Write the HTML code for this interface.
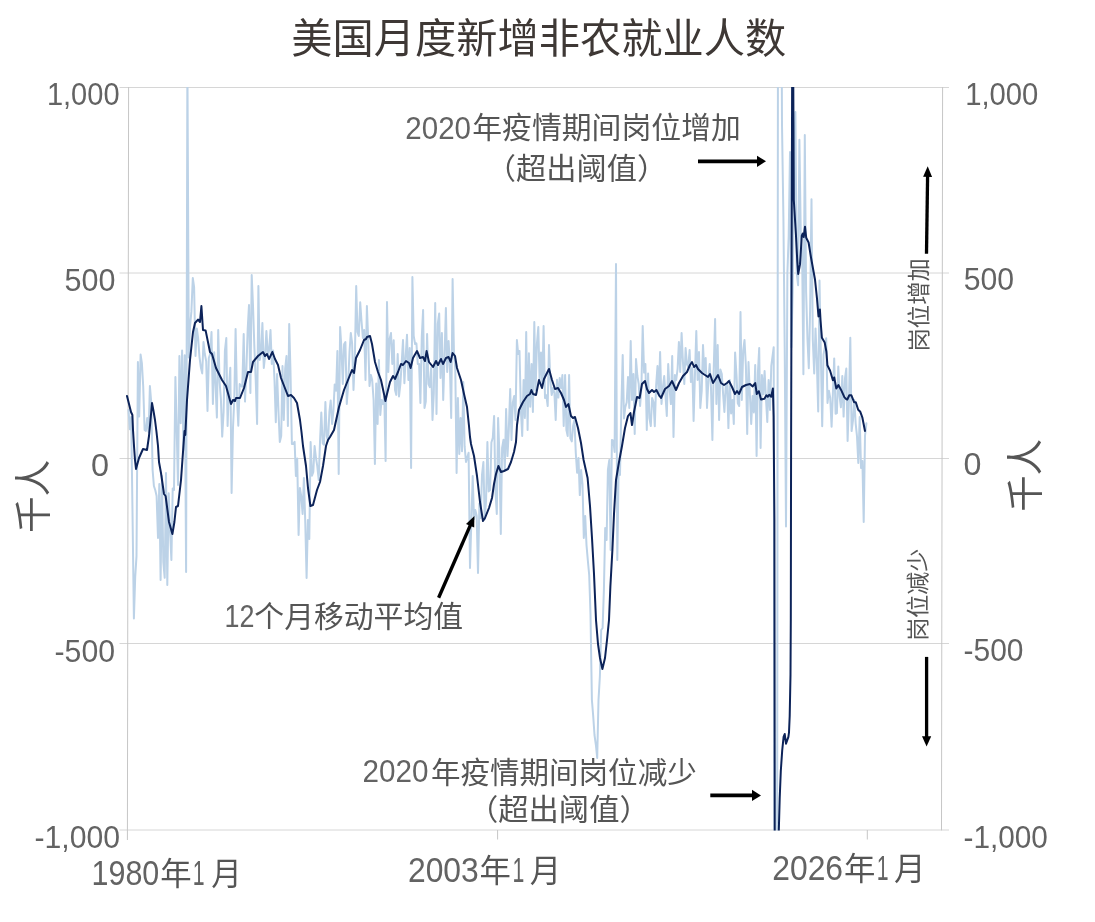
<!DOCTYPE html>
<html lang="zh-CN"><head><meta charset="utf-8"><title>美国月度新增非农就业人数</title>
<style>
html,body{margin:0;padding:0;background:#fff}
body{width:1095px;height:922px;overflow:hidden}
svg{display:block}
text{font-family:"Liberation Sans","Noto Sans CJK SC",sans-serif}
.cj{font-weight:400}
</style></head><body>
<svg width="1095" height="922" viewBox="0 0 1095 922">
<defs><clipPath id="c"><rect x="120" y="87" width="830" height="743.4"/></clipPath></defs>
<rect width="1095" height="922" fill="#fff"/>
<text transform="translate(291.35,52.90) scale(0.9990,1)" font-size="41.3" fill="#3e3835">美国月度新增非农就业人数</text>
<g stroke="#d6d6d6" stroke-width="1" fill="none">
<path d="M119.5,87.5H949 M119.5,273.0H949 M119.5,458.5H949 M119.5,643.5H949 M119.5,830H949"/>
</g>
<g stroke="#c6c6c6" stroke-width="1" fill="none">
<path d="M128.6,87L127.4,840 M942.6,87L941.5,830.4 M497.6,830V839.5 M867.3,830V839.5"/>
</g>
<g clip-path="url(#c)" fill="none" stroke-linejoin="round" stroke-linecap="round">
<path stroke="#bcd2e7" stroke-width="2.0" d="M128.5,409.9 L129.8,429.2 L131.2,416.9 L132.5,512.3 L133.9,618.4 L135.2,577.2 L136.5,556.1 L137.9,362.0 L139.2,416.6 L140.6,354.6 L141.9,363.5 L143.2,386.2 L144.6,430.0 L145.9,430.9 L147.2,418.0 L148.6,432.0 L149.9,386.0 L151.3,403.2 L152.6,470.0 L153.9,486.0 L155.3,490.2 L156.6,496.0 L158.0,538.0 L159.3,484.0 L160.6,580.0 L162.0,476.0 L163.3,562.0 L164.7,577.8 L166.0,473.0 L167.3,585.0 L168.7,493.3 L170.0,530.0 L171.4,560.0 L172.7,488.5 L174.0,490.0 L175.4,377.0 L176.7,430.0 L178.0,485.0 L179.4,356.0 L180.7,423.3 L182.1,350.6 L183.4,450.0 L184.7,355.2 L186.1,572.0 L187.4,60.0 L188.8,357.4 L190.1,326.0 L191.4,311.4 L192.8,278.0 L194.1,287.1 L195.5,356.0 L196.8,328.4 L198.1,338.0 L199.5,357.1 L200.8,367.0 L202.2,373.4 L203.5,342.0 L204.8,354.0 L206.2,361.3 L207.5,411.0 L208.8,358.0 L210.2,353.9 L211.5,332.0 L212.9,404.0 L214.2,352.3 L215.5,384.0 L216.9,417.6 L218.2,330.0 L219.6,382.0 L220.9,399.3 L222.2,436.6 L223.6,412.0 L224.9,350.9 L226.3,338.0 L227.6,426.0 L228.9,388.0 L230.3,367.8 L231.6,493.0 L233.0,427.7 L234.3,399.0 L235.6,329.0 L237.0,398.0 L238.3,425.8 L239.7,384.0 L241.0,386.0 L242.3,386.8 L243.7,334.0 L245.0,401.6 L246.3,372.0 L247.7,329.0 L249.0,305.1 L250.4,393.0 L251.7,275.0 L253.0,305.5 L254.4,348.0 L255.7,379.8 L257.1,424.0 L258.4,286.0 L259.7,360.0 L261.1,352.6 L262.4,323.0 L263.8,368.0 L265.1,355.9 L266.4,331.0 L267.8,356.0 L269.1,350.0 L270.5,330.0 L271.8,364.0 L273.1,350.5 L274.5,380.0 L275.8,422.2 L277.1,374.1 L278.5,412.0 L279.8,442.0 L281.2,436.0 L282.5,366.0 L283.8,420.0 L285.2,368.5 L286.5,356.0 L287.9,426.0 L289.2,324.0 L290.5,372.0 L291.9,444.1 L293.2,444.0 L294.6,441.8 L295.9,476.0 L297.2,458.4 L298.6,535.0 L299.9,488.0 L301.3,496.6 L302.6,514.0 L303.9,478.0 L305.3,523.6 L306.6,578.0 L307.9,520.0 L309.3,539.0 L310.6,442.0 L312.0,475.8 L313.3,472.0 L314.6,446.0 L316.0,458.0 L317.3,466.4 L318.7,480.0 L320.0,442.0 L321.3,412.5 L322.7,443.3 L324.0,444.8 L325.4,402.0 L326.7,436.0 L328.0,441.0 L329.4,412.0 L330.7,400.4 L332.1,424.0 L333.4,410.8 L334.7,384.4 L336.1,390.8 L337.4,351.0 L338.7,474.0 L340.1,327.1 L341.4,348.0 L342.8,384.0 L344.1,344.2 L345.4,342.0 L346.8,404.0 L348.1,385.1 L349.5,352.0 L350.8,333.0 L352.1,343.2 L353.5,390.0 L354.8,360.4 L356.2,286.0 L357.5,332.0 L358.8,336.0 L360.2,302.2 L361.5,321.0 L362.9,338.0 L364.2,330.0 L365.5,380.0 L366.9,306.0 L368.2,340.0 L369.5,386.0 L370.9,375.0 L372.2,380.0 L373.6,400.0 L374.9,464.0 L376.2,383.4 L377.6,424.0 L378.9,360.0 L380.3,414.9 L381.6,400.0 L382.9,404.0 L384.3,396.4 L385.6,461.0 L387.0,302.0 L388.3,372.0 L389.6,339.0 L391.0,333.0 L392.3,364.0 L393.7,340.3 L395.0,390.0 L396.3,394.9 L397.7,354.0 L399.0,396.4 L400.4,384.0 L401.7,362.8 L403.0,340.0 L404.4,383.2 L405.7,356.0 L407.0,334.8 L408.4,380.0 L409.7,348.0 L411.1,468.0 L412.4,277.0 L413.7,336.0 L415.1,344.0 L416.4,343.4 L417.8,364.0 L419.1,364.0 L420.4,403.0 L421.8,336.5 L423.1,310.0 L424.5,408.0 L425.8,401.6 L427.1,334.0 L428.5,384.0 L429.8,387.1 L431.2,367.5 L432.5,420.0 L433.8,393.5 L435.2,303.0 L436.5,414.0 L437.8,324.0 L439.2,313.4 L440.5,378.0 L441.9,333.0 L443.2,400.0 L444.5,357.5 L445.9,308.0 L447.2,372.0 L448.6,341.0 L449.9,365.9 L451.2,418.0 L452.6,279.0 L453.9,350.0 L455.3,369.7 L456.6,473.0 L457.9,398.0 L459.3,454.0 L460.6,418.0 L462.0,451.2 L463.3,382.0 L464.6,446.2 L466.0,462.0 L467.3,457.4 L468.6,452.8 L470.0,568.0 L471.3,523.3 L472.7,476.0 L474.0,519.0 L475.3,510.0 L476.7,516.0 L478.0,573.0 L479.4,503.5 L480.7,518.0 L482.0,474.9 L483.4,462.0 L484.7,519.1 L486.1,500.0 L487.4,442.0 L488.7,491.4 L490.1,490.0 L491.4,442.5 L492.8,437.8 L494.1,416.0 L495.4,490.0 L496.8,514.0 L498.1,418.0 L499.4,454.4 L500.8,534.0 L502.1,448.0 L503.5,439.7 L504.8,470.0 L506.1,408.9 L507.5,456.1 L508.8,430.1 L510.2,389.0 L511.5,440.0 L512.8,402.8 L514.2,396.0 L515.5,420.0 L516.9,340.0 L518.2,354.0 L519.5,351.0 L520.9,410.4 L522.2,436.0 L523.6,380.0 L524.9,417.9 L526.2,332.0 L527.6,430.0 L528.9,353.3 L530.2,406.7 L531.6,364.0 L532.9,412.0 L534.3,322.0 L535.6,390.0 L536.9,344.1 L538.3,327.0 L539.6,380.0 L541.0,352.5 L542.3,383.9 L543.6,326.0 L545.0,398.0 L546.3,395.2 L547.7,406.0 L549.0,345.0 L550.3,380.0 L551.7,395.0 L553.0,388.0 L554.4,393.1 L555.7,420.0 L557.0,379.8 L558.4,397.6 L559.7,378.0 L561.1,388.0 L562.4,375.0 L563.7,426.0 L565.1,375.0 L566.4,430.0 L567.7,436.0 L569.1,375.0 L570.4,438.3 L571.8,441.4 L573.1,426.0 L574.4,420.0 L575.8,453.3 L577.1,472.8 L578.5,458.0 L579.8,495.1 L581.1,470.0 L582.5,484.0 L583.8,538.0 L585.2,516.0 L586.5,545.0 L587.8,560.0 L589.2,575.0 L590.5,614.0 L591.9,700.0 L593.2,716.0 L594.5,735.0 L595.9,745.0 L597.2,758.0 L598.5,700.0 L599.9,676.0 L601.2,630.0 L602.6,628.0 L603.9,590.0 L605.2,528.0 L606.6,540.0 L607.9,470.0 L609.3,460.0 L610.6,550.0 L611.9,440.0 L613.3,440.6 L614.6,452.0 L616.0,264.0 L617.3,560.0 L618.6,470.0 L620.0,475.0 L621.3,409.5 L622.7,355.0 L624.0,418.4 L625.3,407.2 L626.7,402.3 L628.0,377.0 L629.3,408.0 L630.7,341.0 L632.0,400.0 L633.4,374.0 L634.7,434.0 L636.0,359.0 L637.4,376.0 L638.7,384.0 L640.1,406.0 L641.4,388.2 L642.7,326.0 L644.1,372.6 L645.4,364.0 L646.8,430.0 L648.1,373.4 L649.4,418.0 L650.8,426.0 L652.1,398.0 L653.5,402.0 L654.8,426.2 L656.1,385.9 L657.5,366.0 L658.8,396.0 L660.1,352.0 L661.5,404.0 L662.8,388.0 L664.2,376.0 L665.5,395.6 L666.8,416.0 L668.2,364.0 L669.5,388.0 L670.9,404.1 L672.2,356.0 L673.5,437.0 L674.9,375.1 L676.2,380.0 L677.6,368.8 L678.9,342.0 L680.2,372.0 L681.6,333.0 L682.9,361.2 L684.3,384.0 L685.6,348.0 L686.9,364.0 L688.3,367.4 L689.6,350.0 L690.9,382.0 L692.3,368.0 L693.6,421.0 L695.0,373.1 L696.3,331.0 L697.6,380.0 L699.0,352.0 L700.3,408.0 L701.7,390.9 L703.0,345.0 L704.3,372.0 L705.7,358.0 L707.0,408.0 L708.4,380.3 L709.7,364.0 L711.0,388.1 L712.4,440.0 L713.7,370.3 L715.1,319.0 L716.4,404.0 L717.7,345.0 L719.1,420.0 L720.4,369.6 L721.8,374.0 L723.1,393.9 L724.4,412.0 L725.8,384.4 L727.1,384.0 L728.4,428.1 L729.8,380.0 L731.1,413.5 L732.5,400.0 L733.8,424.0 L735.1,352.4 L736.5,375.0 L737.8,403.4 L739.2,406.0 L740.5,312.0 L741.8,400.0 L743.2,350.7 L744.5,340.0 L745.9,366.0 L747.2,434.0 L748.5,362.0 L749.9,394.5 L751.2,424.0 L752.6,396.0 L753.9,412.4 L755.2,365.0 L756.6,456.0 L757.9,373.0 L759.2,348.0 L760.6,448.0 L761.9,375.0 L763.3,394.2 L764.6,371.0 L765.9,397.7 L767.3,422.0 L768.6,380.0 L770.0,410.0 L771.3,365.8 L773.7,347.2 L774.7,977.9 L776.9,1100.0 L778.2,-200.0 L778.0,-200.0 L779.3,-60.9 L780.7,-172.2 L782.0,124.6 L783.4,217.3 L784.7,347.2 L786.0,526.4 L787.4,273.0 L788.7,235.9 L790.0,152.1 L791.4,347.2 L792.7,291.6 L794.1,161.7 L795.4,112.0 L796.7,273.0 L798.1,285.2 L799.4,139.8 L800.8,235.9 L802.1,250.7 L803.4,374.3 L804.8,135.0 L806.1,291.6 L807.5,339.8 L808.8,368.3 L810.1,310.1 L811.5,199.2 L812.8,339.8 L814.2,373.5 L815.5,328.6 L816.8,360.2 L818.2,411.4 L819.5,280.4 L820.8,350.9 L822.2,426.2 L823.5,354.6 L824.9,347.2 L826.2,338.2 L827.5,403.0 L828.9,390.8 L830.2,397.8 L831.6,426.7 L832.9,393.5 L834.2,358.4 L835.6,413.8 L836.9,413.2 L838.3,366.6 L839.6,396.3 L840.9,407.3 L842.3,375.9 L843.6,416.6 L845.0,378.4 L846.3,368.6 L847.6,441.0 L849.0,398.7 L850.3,337.8 L851.6,431.1 L853.0,420.0 L854.3,400.1 L855.7,423.8 L857.0,436.4 L858.3,463.0 L859.7,417.1 L861.0,468.0 L862.4,461.0 L863.7,522.0 L865.0,435.8 L866.4,423.3"/>
<path stroke="#0c2359" stroke-width="2.0" d="M127.0,396.0 L129.0,404.0 L131.0,412.0 L132.4,415.0 L133.0,430.0 L134.0,446.0 L135.0,460.0 L136.0,469.0 L139.0,458.0 L143.0,449.0 L147.0,450.0 L149.0,436.0 L150.5,420.0 L152.0,403.0 L153.5,411.0 L155.0,420.0 L156.5,432.0 L158.0,446.0 L159.0,462.0 L161.0,473.0 L164.0,494.0 L165.6,496.0 L169.0,522.0 L172.4,534.0 L174.4,522.0 L176.0,507.0 L178.0,506.0 L181.0,480.0 L183.0,452.0 L184.5,431.0 L185.3,435.0 L187.0,400.0 L190.0,360.0 L193.0,332.0 L195.0,323.0 L198.0,319.6 L200.0,322.0 L201.4,306.0 L203.0,330.0 L205.6,330.4 L210.0,352.0 L212.0,354.0 L216.0,368.0 L222.0,380.0 L226.0,386.0 L231.0,404.0 L233.0,400.0 L235.0,401.0 L236.0,398.0 L240.0,398.0 L244.0,388.0 L248.0,372.0 L251.0,372.0 L253.0,362.0 L258.0,356.0 L263.0,352.0 L265.0,356.0 L267.0,354.0 L269.0,359.0 L272.4,352.0 L275.0,359.0 L278.0,365.0 L281.0,378.0 L288.0,396.0 L291.0,395.0 L294.0,398.0 L297.0,403.0 L300.0,420.0 L301.5,432.0 L303.0,446.0 L306.0,466.0 L308.0,488.0 L310.4,506.0 L313.0,505.0 L317.0,490.0 L320.0,482.0 L323.0,466.0 L326.0,446.0 L328.0,440.0 L330.0,437.0 L334.0,430.0 L339.0,407.0 L344.0,390.0 L348.0,380.0 L352.0,370.0 L354.0,373.0 L356.0,358.0 L360.0,350.0 L364.0,340.0 L366.0,339.0 L367.0,337.0 L370.0,336.0 L372.0,344.0 L375.0,362.0 L378.0,372.0 L381.0,380.0 L384.0,394.0 L385.4,401.0 L387.0,394.0 L390.0,382.0 L393.0,376.0 L395.0,379.0 L398.0,372.0 L401.0,364.0 L403.0,365.0 L406.0,361.0 L409.0,363.0 L410.6,368.0 L413.0,358.0 L417.0,351.0 L420.0,358.0 L423.0,357.0 L425.0,361.0 L426.6,351.0 L429.0,362.0 L433.0,367.0 L436.0,361.0 L438.0,365.0 L441.0,359.0 L443.0,364.0 L446.0,358.0 L448.6,357.0 L450.6,362.0 L452.6,353.0 L455.0,356.0 L457.0,368.0 L461.0,380.0 L464.0,394.0 L467.0,407.0 L469.0,426.0 L470.0,437.0 L471.0,444.0 L474.0,456.0 L477.0,476.0 L480.0,502.0 L483.0,521.0 L485.0,518.0 L489.0,508.0 L492.0,498.0 L494.0,484.0 L496.0,474.0 L498.4,466.0 L501.0,472.0 L504.0,471.0 L506.0,470.0 L508.0,469.0 L511.0,462.0 L514.0,452.0 L516.0,442.0 L517.0,425.0 L519.0,410.0 L523.0,402.0 L527.0,396.0 L530.0,394.0 L531.4,390.0 L533.0,394.0 L536.0,395.0 L539.0,380.0 L542.0,388.0 L544.0,379.0 L549.0,369.0 L552.0,380.0 L555.0,389.0 L558.0,388.0 L561.0,393.0 L564.0,400.0 L566.0,407.0 L568.4,404.0 L571.0,416.0 L573.0,418.0 L575.0,417.0 L578.0,428.0 L581.0,443.0 L583.6,460.0 L587.6,478.0 L590.0,506.0 L592.0,538.0 L594.0,574.0 L596.0,620.0 L598.0,644.0 L600.0,658.0 L602.4,669.0 L605.0,658.0 L607.0,640.0 L609.0,620.0 L610.4,586.0 L612.4,550.0 L614.0,514.0 L616.0,480.0 L619.0,462.0 L622.0,446.0 L625.0,428.0 L628.0,416.0 L630.4,413.0 L632.0,425.0 L634.0,412.0 L637.0,397.0 L639.6,398.0 L642.0,384.0 L645.0,381.0 L647.0,389.0 L649.0,393.0 L652.0,390.0 L654.0,392.0 L656.4,390.0 L659.0,395.0 L661.0,398.0 L665.0,389.0 L669.0,386.0 L672.0,381.0 L676.0,390.0 L679.0,383.0 L683.0,376.0 L687.0,372.0 L690.0,365.0 L692.0,362.0 L694.0,367.0 L696.0,365.0 L698.0,369.0 L702.0,373.0 L708.0,377.0 L710.0,374.0 L713.0,383.0 L718.0,375.0 L721.0,383.0 L724.0,385.0 L727.0,383.0 L729.0,381.0 L732.0,387.0 L735.0,394.0 L737.0,391.0 L739.0,394.0 L742.0,387.0 L746.0,385.0 L750.0,384.0 L752.7,386.4 L755.2,383.0 L756.8,394.0 L758.9,391.2 L761.0,399.5 L764.4,398.8 L766.4,395.3 L767.8,396.7 L769.2,394.7 L771.2,396.7 L772.9,388.5 L773.6,416.0 L774.4,520.0 L774.8,900.0 L778.6,900.0 L778.8,830.7 L779.7,798.5 L780.8,771.0 L782.2,750.5 L783.6,736.8 L784.7,734.0 L786.0,743.7 L788.4,736.8 L789.0,732.3 L789.7,716.0 L790.5,674.8 L790.8,620.0 L791.1,440.0 L791.8,200.0 L792.3,20.0 L793.0,20.0 L793.8,200.0 L795.9,234.0 L797.3,261.6 L798.2,274.0 L800.0,264.4 L801.8,235.6 L802.7,233.6 L803.7,237.0 L805.0,226.7 L806.2,237.7 L808.6,242.5 L811.0,257.5 L815.0,279.5 L817.0,298.6 L818.5,316.4 L819.9,309.6 L820.5,320.0 L821.9,337.8 L824.7,342.6 L826.4,351.5 L827.4,365.2 L830.1,370.7 L832.9,380.3 L834.2,377.5 L836.3,388.5 L838.4,385.0 L841.1,389.9 L844.5,397.4 L845.9,398.8 L847.3,399.5 L849.3,395.3 L851.4,395.3 L854.1,402.2 L855.8,402.2 L858.2,409.7 L860.3,411.8 L862.3,417.3 L865.0,431.0"/>
</g>
<text transform="translate(46.92,104.70) scale(0.9367,1)" font-size="31" fill="#636363">1,000</text>
<text transform="translate(64.48,290.60) scale(0.9840,1)" font-size="31" fill="#636363">500</text>
<text transform="translate(91.00,475.60) scale(1.0471,1)" font-size="31" fill="#636363">0</text>
<text transform="translate(54.54,661.60) scale(0.9757,1)" font-size="31" fill="#636363">-500</text>
<text transform="translate(34.44,847.60) scale(0.9739,1)" font-size="31" fill="#636363">-1,000</text>
<text transform="translate(965.21,104.60) scale(0.9434,1)" font-size="31" fill="#636363">1,000</text>
<text transform="translate(963.69,289.90) scale(0.9738,1)" font-size="31" fill="#636363">500</text>
<text transform="translate(963.61,475.40) scale(1.0404,1)" font-size="31" fill="#636363">0</text>
<text transform="translate(963.55,661.30) scale(0.9673,1)" font-size="31" fill="#636363">-500</text>
<text transform="translate(963.56,848.20) scale(0.9598,1)" font-size="31" fill="#636363">-1,000</text>
<text transform="translate(91.51,884.60) scale(0.8807,1)" font-size="34.6" fill="#636363">1980</text>
<text transform="translate(160.21,884.80) scale(0.9814,1)" font-size="32" fill="#555555" class="cj">年</text>
<text transform="translate(192.75,884.60) scale(0.6148,1)" font-size="34.6" fill="#636363">1</text>
<text transform="translate(211.18,884.80) scale(0.9533,1)" font-size="32" fill="#555555" class="cj">月</text>
<text transform="translate(407.91,881.60) scale(0.9213,1)" font-size="34.6" fill="#636363">2003</text>
<text transform="translate(479.61,881.80) scale(0.9814,1)" font-size="32" fill="#555555" class="cj">年</text>
<text transform="translate(512.50,881.60) scale(0.6148,1)" font-size="34.6" fill="#636363">1</text>
<text transform="translate(529.86,881.80) scale(0.9810,1)" font-size="32" fill="#555555" class="cj">月</text>
<text transform="translate(772.21,879.70) scale(0.9213,1)" font-size="34.6" fill="#636363">2026</text>
<text transform="translate(843.91,879.90) scale(0.9814,1)" font-size="32" fill="#555555" class="cj">年</text>
<text transform="translate(876.80,879.70) scale(0.6148,1)" font-size="34.6" fill="#636363">1</text>
<text transform="translate(894.05,879.90) scale(0.9850,1)" font-size="32" fill="#555555" class="cj">月</text>
<text transform="translate(405.32,138.50) scale(0.9179,1)" font-size="32.2" fill="#636363">2020</text>
<text transform="translate(472.18,138.40) scale(1.0191,1)" font-size="29.3" fill="#555555" class="cj">年疫情期间岗位增加</text>
<text transform="translate(485.87,178.80) scale(1.0328,1)" font-size="29.3" fill="#555555" class="cj">（超出阈值）</text>
<text transform="translate(224.48,626.80) scale(0.8355,1)" font-size="32.2" fill="#636363">12</text>
<text transform="translate(254.36,626.70) scale(1.0181,1)" font-size="29.3" fill="#555555" class="cj">个月移动平均值</text>
<text transform="translate(362.52,782.40) scale(0.9208,1)" font-size="32.2" fill="#636363">2020</text>
<text transform="translate(430.90,782.50) scale(1.0088,1)" font-size="29.3" fill="#555555" class="cj">年疫情期间岗位减少</text>
<text transform="translate(467.92,819.50) scale(1.0350,1)" font-size="29.3" fill="#555555" class="cj">（超出阈值）</text>
<text transform="translate(33.00,496.00) rotate(-90) translate(-36.92,14.16) scale(0.9760,1)" font-size="37.5" fill="#555555" class="cj">千人</text>
<text transform="translate(1024.60,475.00) rotate(-90) translate(-36.66,14.16) scale(0.9691,1)" font-size="37.5" fill="#555555" class="cj">千人</text>
<text transform="translate(919.00,304.60) rotate(-90) translate(-46.86,8.49) scale(1.0501,1)" font-size="22.2" fill="#555555" class="cj">岗位增加</text>
<text transform="translate(917.70,594.00) rotate(-90) translate(-46.83,8.46) scale(1.0391,1)" font-size="22.2" fill="#555555" class="cj">岗位减少</text>
<path d="M698.0,161.3L758.0,161.3" stroke="#000" stroke-width="3.8" fill="none"/><path d="M766.0,161.3L757.0,166.9L757.0,155.7z" fill="#000"/>
<path d="M710.3,795.4L753.0,795.4" stroke="#000" stroke-width="3.8" fill="none"/><path d="M761.0,795.4L752.0,801.0L752.0,789.8z" fill="#000"/>
<path d="M926.5,253.8L927.6,175.8" stroke="#000" stroke-width="3.3" fill="none"/><path d="M927.7,166.3L932.1,176.9L923.1,176.7z" fill="#000"/>
<path d="M926.6,656.9L926.6,737.2" stroke="#000" stroke-width="3.3" fill="none"/><path d="M926.6,746.6L922.0,736.2L931.2,736.2z" fill="#000"/>
<path d="M438.6,597.8L470.5,524.9" stroke="#000" stroke-width="3.4" fill="none"/><path d="M474.4,515.9L474.2,527.6L466.0,524.0z" fill="#000"/>
</svg>
</body></html>
